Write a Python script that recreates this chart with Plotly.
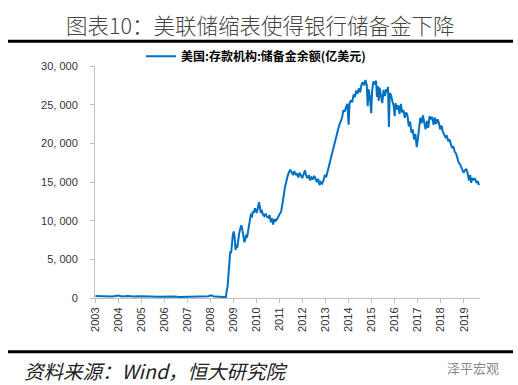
import plotly.graph_objects as go

# ---- data ----
dates = [
    "2003-01-08", "2003-04-02", "2003-07-02", "2003-10-01", "2004-01-07", "2004-03-03",
    "2004-06-02", "2004-09-01", "2004-12-01", "2005-03-02", "2005-06-01", "2005-09-07",
    "2005-12-07", "2006-03-01", "2006-06-07", "2006-09-06", "2006-12-06", "2007-03-07",
    "2007-06-06", "2007-09-05", "2007-12-05", "2008-01-09", "2008-03-05", "2008-06-04",
    "2008-08-06", "2008-09-03", "2008-09-17", "2008-10-01", "2008-10-15", "2008-10-29",
    "2008-11-12", "2008-11-26", "2008-12-10", "2008-12-24", "2009-01-07", "2009-01-21",
    "2009-02-04", "2009-02-18", "2009-03-04", "2009-03-18", "2009-04-01", "2009-04-15",
    "2009-05-06", "2009-05-20", "2009-06-10", "2009-06-24", "2009-07-08", "2009-07-22",
    "2009-08-05", "2009-08-19", "2009-09-02", "2009-09-16", "2009-10-07", "2009-10-21",
    "2009-11-04", "2009-11-18", "2009-12-09", "2009-12-23", "2010-01-06", "2010-01-20",
    "2010-02-10", "2010-02-24", "2010-03-10", "2010-03-24", "2010-04-14", "2010-05-05",
    "2010-05-26", "2010-06-16", "2010-07-07", "2010-07-28", "2010-08-18", "2010-09-08",
    "2010-09-22", "2010-10-13", "2010-11-03", "2010-11-24", "2010-12-15", "2011-01-05",
    "2011-01-26", "2011-02-16", "2011-03-09", "2011-03-30", "2011-04-20", "2011-05-11",
    "2011-06-01", "2011-06-22", "2011-07-13", "2011-08-03", "2011-08-24", "2011-09-14",
    "2011-10-05", "2011-10-26", "2011-11-16", "2011-12-07", "2011-12-28", "2012-01-18",
    "2012-02-08", "2012-02-29", "2012-03-21", "2012-04-11", "2012-05-02", "2012-05-23",
    "2012-06-13", "2012-07-04", "2012-07-25", "2012-08-15", "2012-09-05", "2012-09-26",
    "2012-10-17", "2012-11-07", "2012-11-28", "2012-12-19", "2013-01-09", "2013-01-30",
    "2013-02-20", "2013-03-13", "2013-04-03", "2013-04-24", "2013-05-15", "2013-06-05",
    "2013-06-26", "2013-07-17", "2013-08-07", "2013-08-28", "2013-09-18", "2013-10-09",
    "2013-10-30", "2013-11-20", "2013-12-11", "2013-12-31", "2014-01-15", "2014-02-05",
    "2014-02-26", "2014-03-19", "2014-04-09", "2014-04-30", "2014-05-21", "2014-06-11",
    "2014-07-02", "2014-07-23", "2014-08-13", "2014-09-03", "2014-09-24", "2014-10-15",
    "2014-10-29", "2014-11-12", "2014-12-03", "2014-12-24", "2015-01-07", "2015-01-28",
    "2015-02-18", "2015-03-11", "2015-03-25", "2015-04-08", "2015-04-22", "2015-05-06",
    "2015-05-27", "2015-06-17", "2015-07-08", "2015-07-29", "2015-08-19", "2015-09-02",
    "2015-09-16", "2015-09-30", "2015-10-14", "2015-11-04", "2015-11-25", "2015-12-16",
    "2015-12-30", "2016-01-13", "2016-02-03", "2016-02-24", "2016-03-16", "2016-04-06",
    "2016-04-27", "2016-05-18", "2016-06-08", "2016-06-29", "2016-07-20", "2016-08-10",
    "2016-08-31", "2016-09-21", "2016-10-12", "2016-11-02", "2016-11-23", "2016-12-14",
    "2016-12-28", "2017-01-18", "2017-02-08", "2017-03-01", "2017-03-22", "2017-04-12",
    "2017-05-03", "2017-05-24", "2017-06-14", "2017-07-05", "2017-07-26", "2017-08-16",
    "2017-09-06", "2017-09-27", "2017-10-18", "2017-11-08", "2017-11-29", "2017-12-20",
    "2018-01-10", "2018-01-31", "2018-02-21", "2018-03-14", "2018-04-04", "2018-04-25",
    "2018-05-16", "2018-06-06", "2018-06-27", "2018-07-18", "2018-08-08", "2018-08-29",
    "2018-09-19", "2018-10-10", "2018-10-31", "2018-11-21", "2018-12-12", "2018-12-26",
    "2019-01-16", "2019-02-06", "2019-02-27", "2019-03-20", "2019-04-10", "2019-04-24",
    "2019-05-15", "2019-06-05", "2019-06-26", "2019-07-17", "2019-08-07", "2019-08-28",
]
reserves = [
    250, 200, 230, 180, 320, 210,
    250, 190, 230, 170, 200, 160,
    190, 150, 180, 140, 170, 150,
    160, 190, 240, 350, 180, 150,
    120, 110, 900, 1500, 3000, 4500,
    6000, 5800, 7500, 8200, 8600, 7800,
    6200, 6900, 6500, 7800, 8300, 8800,
    9400, 9000, 8000, 7200, 7600, 8200,
    7800, 8500, 9200, 9600, 10900, 10400,
    11200, 11000, 11600, 11200, 11100, 11500,
    12400, 11800, 11000, 11400, 10800, 10600,
    10900, 10500, 10400, 10700, 9800, 10300,
    9500, 10200, 10000, 10200, 10600, 10900,
    11100, 12000, 13200, 14400, 15300, 15800,
    16300, 16600, 16200, 16000, 16400, 15900,
    16100, 15600, 16200, 15800, 15500, 16000,
    16500, 15800, 15500, 15900, 15200, 15600,
    15400, 15800, 15300, 15000, 15400, 14600,
    15000, 14800, 15200, 15900, 15600, 16300,
    17000, 17800, 18600, 19300, 19900, 20500,
    21100, 21800, 22400, 22900, 23300, 24300,
    24100, 24700, 25100, 22400, 25200, 25600,
    25300, 26300, 26000, 26800, 26400, 27100,
    26600, 27600, 27900, 27500, 28200, 27500,
    24800, 27000, 26000, 23900, 26800, 28000,
    27600, 28100, 26000, 27400, 25500, 27200,
    26400, 25200, 26900, 26100, 27000, 26600,
    27300, 22100, 26500, 26200, 25400, 24800,
    23500, 25200, 24400, 24900, 23800, 25100,
    24000, 24300, 23300, 24000, 23600, 22200,
    22800, 21400, 21800, 20500, 21200, 19500,
    20300, 21700, 23300, 22600, 23600, 22700,
    21800, 22900, 22000, 23500, 23200, 23400,
    22400, 23300, 22500, 23100, 22700, 21800,
    22300, 21500, 21100, 20800, 21000, 20300,
    20500, 19900, 19400, 19600, 18900, 18700,
    18000, 17500, 17300, 16800, 16600, 16200,
    16500, 16700, 16200, 15200, 15900, 14900,
    15500, 15300, 15400, 14900, 15100, 14600,
]
series_name = "美国:存款机构:储备金余额(亿美元)"
y_tick_vals = [0, 5000, 10000, 15000, 20000, 25000, 30000]
y_tick_labels = ["0", "5, 000", "10, 000", "15, 000", "20, 000", "25, 000", "30, 000"]
title_text = "图表10：美联储缩表使得银行储备金下降"
source_text = "资料来源：Wind，恒大研究院"
watermark_text = "泽平宏观"

# ---- layout geometry (pixels) ----
W, H = 518, 385
L, R, T, B = 95, 480, 65.7, 297.7


def px(xp):
    return (xp - L) / (R - L)


def py(yp):
    return (B - yp) / (B - T)


CJK = "Noto Sans CJK SC"
fig = go.Figure()
fig.add_trace(go.Scatter(
    x=dates, y=reserves, mode="lines", name=series_name,
    line=dict(color="#0070C0", width=2),
))

fig.update_layout(
    width=W, height=H,
    margin=dict(l=L, r=W - R, t=T, b=H - B, pad=0, autoexpand=False),
    paper_bgcolor="white", plot_bgcolor="white",
    showlegend=True,
    legend=dict(
        orientation="h", x=px(141), y=py(56), xanchor="left", yanchor="middle",
        font=dict(family=CJK, size=12, color="#000000", weight="bold"),
        bgcolor="rgba(0,0,0,0)", itemwidth=30,
    ),
    xaxis=dict(
        type="date", range=["2003-01-01", "2019-09-12"],
        tick0="2003-01-01", dtick="M12", tickformat="%Y",
        tickangle=-90, showgrid=False, zeroline=False,
        showline=True, linecolor="#BFBFBF", linewidth=1,
        ticks="outside", ticklen=4, tickcolor="#BFBFBF",
        tickfont=dict(family="Liberation Sans", size=11, color="#333333"),
    ),
    yaxis=dict(
        range=[0, 30000], tickvals=y_tick_vals, ticktext=y_tick_labels,
        showgrid=False, zeroline=False,
        showline=True, linecolor="#BFBFBF", linewidth=1,
        ticks="outside", ticklen=4, tickcolor="#BFBFBF",
        ticklabelstandoff=10,
        tickfont=dict(family="Liberation Sans", size=11, color="#333333"),
    ),
    shapes=[
        dict(type="line", xref="paper", yref="paper", x0=px(8), x1=px(513), y0=py(41), y1=py(41),
             line=dict(color="#000000", width=3)),
        dict(type="line", xref="paper", yref="paper", x0=px(8), x1=px(513), y0=py(351.5), y1=py(351.5),
             line=dict(color="#000000", width=3)),
    ],
    annotations=[
        dict(text=title_text, xref="paper", yref="paper", x=px(260), y=py(24),
             xanchor="center", yanchor="middle", showarrow=False,
             font=dict(family=CJK, size=21.5, color="#444444", weight=300)),
        dict(text="<i>" + source_text + "</i>", xref="paper", yref="paper", x=px(22), y=py(370),
             xanchor="left", yanchor="middle", showarrow=False,
             font=dict(family=CJK, size=19.5, color="#222222")),
        dict(text=watermark_text, xref="paper", yref="paper", x=px(445), y=py(367),
             xanchor="left", yanchor="middle", showarrow=False,
             font=dict(family=CJK, size=13, color="#888888")),
    ],
)

fig.write_html(
    "out.html",
    config={"displayModeBar": False},
    post_script="document.body.style.margin='0';window.dispatchEvent(new Event('resize'));",
)
